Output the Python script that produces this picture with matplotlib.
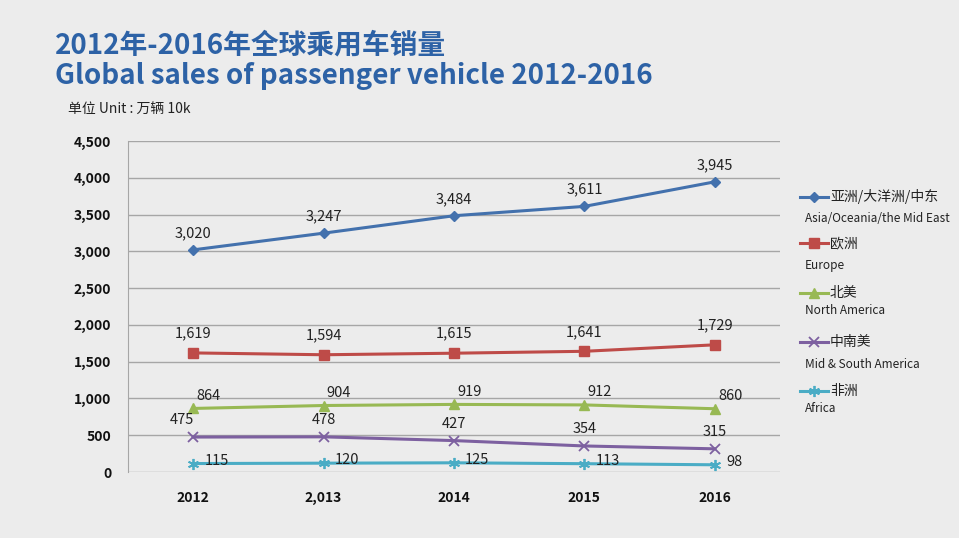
import matplotlib
matplotlib.use("Agg")
import matplotlib.pyplot as plt
from matplotlib.lines import Line2D
from matplotlib.ticker import FuncFormatter

plt.rcParams['font.family'] = ['Noto Sans CJK SC', 'DejaVu Sans']

# data
years = ["2012", "2,013", "2014", "2015", "2016"]
asia = [3020, 3247, 3484, 3611, 3945]
europe = [1619, 1594, 1615, 1641, 1729]
north_america = [864, 904, 919, 912, 860]
mid_south_america = [475, 478, 427, 354, 315]
africa = [115, 120, 125, 113, 98]

names_cn = ["亚洲/大洋洲/中东", "欧洲", "北美", "中南美", "非洲"]
names_en = ["Asia/Oceania/the Mid East", "Europe", "North America",
            "Mid & South America", "Africa"]

bg = "#ececec"
colors = ["#4371ad", "#be4b48", "#98b954", "#7d60a0", "#4aacc5"]
markers = ["D", "s", "^", "x", (6, 2, 0)]
msizes = [5, 6.5, 7, 7, 8]
series = [asia, europe, north_america, mid_south_america, africa]
# label offsets in points (dx, dy) and alignment
offsets = [(0, 12, "center"), (0, 14, "center"), (11, 9, "center"),
           (0, 12, "center"), (8, 2, "left")]

fig = plt.figure(figsize=(9.59, 5.38), dpi=100, facecolor=bg)
ax = fig.add_axes([128/959, 1-472/538, (780-128)/959, (472-141)/538])
ax.set_facecolor(bg)

x = list(range(len(years)))
for i, s in enumerate(series):
    ax.plot(x, s, color=colors[i], lw=2.2, marker=markers[i], ms=msizes[i],
            mew=1.3 if i >= 3 else 1, zorder=3, clip_on=False)
    dx, dy, ha = offsets[i]
    for j, v in enumerate(s):
        ddx = dx
        if i == 3 and j == 0:
            ddx = -8
        ax.annotate(f"{v:,}", (x[j], v), xytext=(ddx, dy), textcoords="offset points",
                    ha=ha, va="center", fontsize=10.5, color="#222222", zorder=4)

ax.set_xlim(-0.5, 4.5)
ax.set_ylim(0, 4500)
ax.set_yticks(range(0, 4501, 500))
ax.yaxis.set_major_formatter(FuncFormatter(lambda v, p: f"{int(v):,}"))
ax.set_xticks(x)
ax.set_xticklabels(years)
ax.grid(axis="y", color="#a6a6a6", lw=1)
ax.set_axisbelow(True)
for sp in ["top", "right", "bottom"]:
    ax.spines[sp].set_visible(False)
ax.spines["left"].set_color("#a6a6a6")
ax.tick_params(length=0)
ax.tick_params(axis="y", pad=12, labelsize=10)
ax.tick_params(axis="x", pad=14, labelsize=10)
for t in ax.get_xticklabels() + ax.get_yticklabels():
    t.set_fontweight("bold")
    t.set_color("#111111")

# titles
fig.text(55/959, 1-46/538, "2012年-2016年全球乘用车销量", fontsize=20, fontweight="bold",
         color="#2d62a6", va="center")
fig.text(55/959, 1-76/538, "Global sales of passenger vehicle 2012-2016", fontsize=20,
         fontweight="bold", color="#2d62a6", va="center")
fig.text(68/959, 1-110/538, "单位 Unit : 万辆 10k", fontsize=10, color="#222222", va="center")

# legend
leg_y = [197, 243, 293, 342, 391]
leg_y2 = [218, 266, 311, 364, 409]
for i in range(5):
    y = 1 - leg_y[i]/538
    fig.add_artist(Line2D([800/959, 814/959, 828/959], [y, y, y], color=colors[i], lw=2.2,
                          marker=markers[i], ms=msizes[i], markevery=[1],
                          mew=1.3 if i >= 3 else 1))
    fig.text(830/959, y, names_cn[i], fontsize=10, color="#222222", va="center")
    fig.text(805/959, 1 - leg_y2[i]/538, names_en[i], fontsize=8.5, color="#222222", va="center")

fig.savefig("out.png", dpi=100, facecolor=bg)
